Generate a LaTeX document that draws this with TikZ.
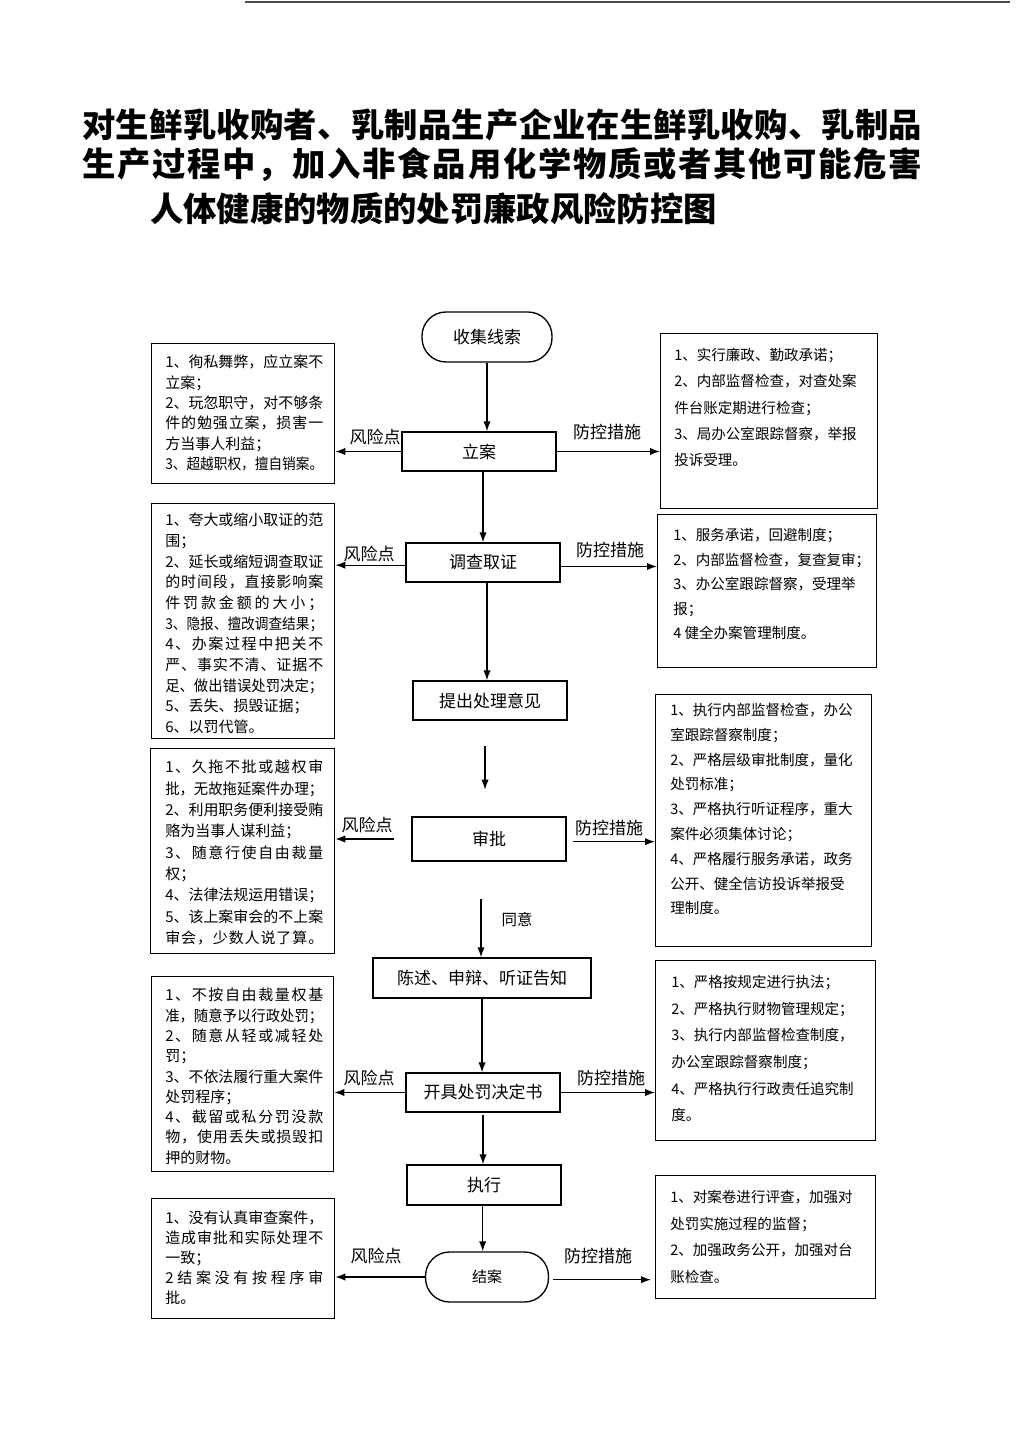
\documentclass[tikz,border=0pt]{standalone}
\usepackage{fontspec}
\usepackage{graphicx}
\setmainfont{Noto Sans CJK SC}
\usetikzlibrary{arrows.meta,calc}
\def\jlA#1{#1\jlB}
\def\jlB#1{\ifx\relax#1\else\hfill#1\expandafter\jlB\fi}
\newsavebox\jlbox
\newcommand\jl[2]{\sbox\jlbox{#2}\ifdim\wd\jlbox>#1\relax\resizebox{#1}{\height}{\usebox\jlbox}\else\makebox[#1][s]{\jlA#2\relax}\fi}
\newcommand\LJ[1]{\jl{118.5pt}{#1}}
\begin{document}
\begin{tikzpicture}[x=0.75pt,y=-0.75pt,
  box/.style={draw, line width=1pt, inner sep=0pt},
  proc/.style={box, minimum width=115.5pt, minimum height=29.25pt, font=\fontsize{12.75pt}{15pt}\selectfont},
  term/.style={box, rounded corners=18pt, minimum height=37.5pt, font=\fontsize{12.75pt}{15pt}\selectfont},
  side/.style={box, anchor=north west},
  ltxt/.style={anchor=north west, inner sep=0pt, align=left, font=\fontsize{11.25pt}{#1}\selectfont},
  rtxt/.style={anchor=north west, inner sep=0pt, align=left, font=\fontsize{10.9pt}{#1}\selectfont},
  lab/.style={inner sep=0pt, font=\fontsize{12.75pt}{15pt}\selectfont},
  ttl/.style={anchor=west, inner sep=0pt, font=\fontsize{25pt}{30pt}\selectfont\bfseries},
  arr/.style={line width=1pt, -{Latex[length=7.5pt,width=5.5pt]}}]
\fill[white] (0,0) rectangle (1024,1448);
\useasboundingbox (0,0) rectangle (1024,1448);
\draw[line width=1.2pt, black!70] (245,2) -- (1010,2);

% title
\node[ttl] (t1) at (82,125) {\jl{630pt}{对生鲜乳收购者、乳制品生产企业在生鲜乳收购、乳制品}};
\node[ttl] (t2) at (82,165) {\jl{630pt}{生产过程中，加入非食品用化学物质或者其他可能危害}};
\node[ttl] (t3) at (150,209) {人体健康的物质的处罚廉政风险防控图};

% centre column
\node[term, minimum width=97.5pt] (shouji) at (487,337) {收集线索};
\node[proc] (lian) at (479,451.5) {立案};
\node[proc] (diaocha) at (483,562.5) {调查取证};
\node[proc] (tichu) at (490,700.5) {提出处理意见};
\node[proc, minimum height=33pt] (shenpi) at (489,839) {审批};
\node[proc, minimum width=163.5pt, minimum height=30pt] (chenshu) at (482,978) {陈述、申辩、听证告知};
\node[proc] (kaiju) at (483,1092.5) {开具处罚决定书};
\node[proc, minimum height=30pt] (zhixing) at (484,1185) {执行};
\node[term, minimum width=92.25pt, font=\fontsize{11.25pt}{14pt}\selectfont] (jiean) at (487,1277) {结案};

% side boxes
\node[side, minimum width=137.25pt, minimum height=105pt] (L1) at (151,343) {};
\node[side, minimum width=137.25pt, minimum height=176.25pt] (L2) at (151,503) {};
\node[side, minimum width=138pt, minimum height=153.75pt] (L3) at (150,748) {};
\node[side, minimum width=136.5pt, minimum height=146.25pt] (L4) at (151,976) {};
\node[side, minimum width=137.25pt, minimum height=90pt] (L5) at (151,1198) {};
\node[side, minimum width=162.75pt, minimum height=131.25pt] (R1) at (660,333) {};
\node[side, minimum width=164.25pt, minimum height=114.75pt] (R2) at (657,514) {};
\node[side, minimum width=162pt, minimum height=189pt] (R3) at (655,694) {};
\node[side, minimum width=165pt, minimum height=135pt] (R4) at (655,960) {};
\node[side, minimum width=165pt, minimum height=92.25pt] (R5) at (655,1175) {};

% left texts
\node[ltxt=15.2pt] (L1t) at (165,355) {\LJ{1、徇私舞弊，应立案不}\\立案；\\\LJ{2、玩忽职守，对不够条}\\\LJ{件的勉强立案，损害一}\\方当事人利益；\\\LJ{3、超越职权，擅自销案。}};
\node[ltxt=15.5pt] (L2t) at (165,513) {\LJ{1、夸大或缩小取证的范}\\围；\\\LJ{2、延长或缩短调查取证}\\\LJ{的时间段，直接影响案}\\\LJ{件罚款金额的大小；}\\\LJ{3、隐报、擅改调查结果；}\\\LJ{4、办案过程中把关不}\\\LJ{严、事实不清、证据不}\\\LJ{足、做出错误处罚决定；}\\5、丢失、损毁证据；\\6、以罚代管。};
\node[ltxt=16pt] (L3t) at (165,760) {\LJ{1、久拖不批或越权审}\\\LJ{批，无故拖延案件办理；}\\\LJ{2、利用职务便利接受贿}\\赂为当事人谋利益；\\\LJ{3、随意行使自由裁量}\\权；\\\LJ{4、法律法规运用错误；}\\\LJ{5、该上案审会的不上案}\\\LJ{审会，少数人说了算。}};
\node[ltxt=15.2pt] (L4t) at (165,988) {\LJ{1、不按自由裁量权基}\\\LJ{准，随意予以行政处罚；}\\\LJ{2、随意从轻或减轻处}\\罚；\\\LJ{3、不依法履行重大案件}\\处罚程序；\\\LJ{4、截留或私分罚没款}\\\LJ{物，使用丢失或损毁扣}\\押的财物。};
\node[ltxt=14.9pt] (L5t) at (165,1211) {\LJ{1、没有认真审查案件，}\\\LJ{造成审批和实际处理不}\\一致；\\\LJ{2结案没有按程序审}\\批。};

% right texts
\node[rtxt=19.7pt] (R1t) at (674,348) {1、实行廉政、勤政承诺；\\2、内部监督检查，对查处案\\件台账定期进行检查；\\3、局办公室跟踪督察，举报\\投诉受理。};
\node[rtxt=18.4pt] (R2t) at (673,528) {1、服务承诺，回避制度；\\2、内部监督检查，复查复审；\\3、办公室跟踪督察，受理举\\报；\\4 健全办案管理制度。};
\node[rtxt=18.6pt] (R3t) at (670,703) {1、执行内部监督检查，办公\\室跟踪督察制度；\\2、严格层级审批制度，量化\\处罚标准；\\3、严格执行听证程序，重大\\案件必须集体讨论；\\4、严格履行服务承诺，政务\\公开、健全信访投诉举报受\\理制度。};
\node[rtxt=20pt] (R4t) at (671,975) {1、严格按规定进行执法；\\2、严格执行财物管理规定；\\3、执行内部监督检查制度，\\办公室跟踪督察制度；\\4、严格执行行政责任追究制\\度。};
\node[rtxt=20pt] (R5t) at (670,1190) {1、对案卷进行评查，加强对\\处罚实施过程的监督；\\2、加强政务公开，加强对台\\账检查。};

% vertical flow
\draw[arr] (shouji.south) -- (shouji.south |- lian.north);
\draw[arr] (lian.south -| diaocha.north) -- (diaocha.north);
\draw[arr] ([xshift=3pt]diaocha.south) -- ([xshift=3pt]diaocha.south |- tichu.north);
\draw[arr, shorten <=19pt, shorten >=20pt] ([xshift=-3.75pt]tichu.south) -- ([xshift=-3.75pt]tichu.south |- shenpi.north);
\draw[arr, shorten <=28pt] ([xshift=-6pt]shenpi.south) -- ([xshift=-6pt]shenpi.south |- chenshu.north);
\draw[arr] (chenshu.south) -- (chenshu.south |- kaiju.north);
\draw[arr, shorten <=2pt] (kaiju.south) -- (kaiju.south |- zhixing.north);
\draw[arr] ([xshift=-1pt]zhixing.south) -- ([xshift=-1pt]zhixing.south |- jiean.north);
\node[lab, font=\fontsize{11.6pt}{14pt}\selectfont] (tongyi) at (517,920) {同意};

% side arrows
\draw[arr] (lian.west) -- (lian.west -| L1.east);
\draw[arr] (lian.east) -- (lian.east -| R1.west);
\node[lab] (f1) at (375,437) {风险点};
\node[lab] (p1) at (607,432) {防控措施};

\draw[arr] ([yshift=-2pt]diaocha.west) -- ([yshift=-2pt]diaocha.west -| L2.east);
\draw[arr] ([yshift=-3pt]diaocha.east) -- ([yshift=-3pt]diaocha.east -| R2.west);
\node[lab] (f2) at (369,554) {风险点};
\node[lab] (p2) at (610,550) {防控措施};

\draw[arr, shorten <=12.75pt] (shenpi.west) -- (shenpi.west -| L3.east);
\draw[arr, shorten <=5pt] ([yshift=-2pt]shenpi.east) -- ([yshift=-2pt]shenpi.east -| R3.west);
\node[lab] (f3) at (367,825) {风险点};
\node[lab] (p3) at (609,828) {防控措施};

\draw[arr] (kaiju.west) -- (kaiju.west -| L4.east);
\draw[arr] (kaiju.east) -- (kaiju.east -| R4.west);
\node[lab] (f4) at (369,1078) {风险点};
\node[lab] (p4) at (611,1078) {防控措施};

\draw[arr] (jiean.west) -- (jiean.west -| L5.east);
\draw[arr, shorten <=3pt, shorten >=3pt] ([yshift=-2pt]jiean.east) -- ([yshift=-2pt]jiean.east -| R5.west);
\node[lab] (f5) at (376,1256) {风险点};
\node[lab] (p5) at (598,1256) {防控措施};
\end{tikzpicture}
\end{document}
